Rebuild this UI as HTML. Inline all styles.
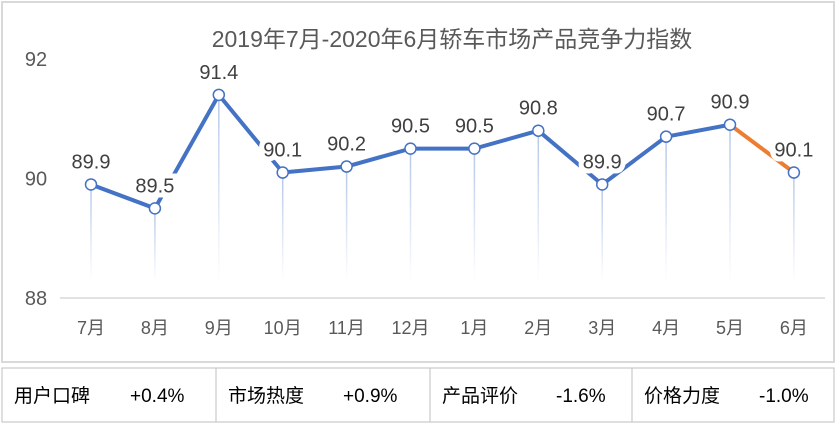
<!DOCTYPE html>
<html><head><meta charset="utf-8"><style>
body{margin:0;width:837px;height:424px;background:#fff;overflow:hidden;font-family:"Liberation Sans","Noto Sans CJK SC",sans-serif}
svg text{font-family:"Liberation Sans","Noto Sans CJK SC",sans-serif}
</style></head><body>
<svg width="837" height="424">
<defs><linearGradient id="dg" x1="0" y1="0" x2="0" y2="1"><stop offset="0" stop-color="#b4c7e7"/><stop offset="1" stop-color="#b4c7e7" stop-opacity="0"/></linearGradient></defs>
<rect x="2" y="2" width="832" height="360" fill="#fff" stroke="#d9d9d9" stroke-width="2"/>
<text x="452" y="47" text-anchor="middle" font-size="23" fill="#595959">2019年7月-2020年6月轿车市场产品竞争力指数</text>
<g id="g"></g>
<rect x="2" y="368" width="832" height="54" fill="#fff" stroke="#bfbfbf"/>
<line x1="216" y1="368" x2="216" y2="422" stroke="#bfbfbf"/>
<line x1="430" y1="368" x2="430" y2="422" stroke="#bfbfbf"/>
<line x1="632" y1="368" x2="632" y2="422" stroke="#bfbfbf"/>
<g font-size="19" fill="#000">
<text x="14" y="402">用户口碑</text><text x="130" y="402">+0.4%</text>
<text x="228" y="402">市场热度</text><text x="343" y="402">+0.9%</text>
<text x="442" y="402">产品评价</text><text x="556" y="402">-1.6%</text>
<text x="644" y="402">价格力度</text><text x="759" y="402">-1.0%</text>
</g>
</svg>
<script>
const categories=["7月","8月","9月","10月","11月","12月","1月","2月","3月","4月","5月","6月"];
const values=[89.9,89.5,91.4,90.1,90.2,90.5,90.5,90.8,89.9,90.7,90.9,90.1];
const yTicks=[88,90,92];
const NS="http://www.w3.org/2000/svg";
const g=document.getElementById('g');
const x=i=>91+i*63.9;
const y=v=>298-(v-88)*59.75;
function mk(t,a,p){const e=document.createElementNS(NS,t);for(const k in a)e.setAttribute(k,a[k]);(p||g).appendChild(e);return e;}
yTicks.forEach(t=>{const e=mk('text',{x:36,y:y(t)+7,'text-anchor':'middle','font-size':20,fill:'#595959'});e.textContent=t;

});
const ax=mk('line',{x1:60,x2:825,y1:y(88),y2:y(88),stroke:'#d9d9d9','stroke-width':1.5});


categories.forEach((c,i)=>{const e=mk('text',{x:x(i),y:334,'text-anchor':'middle','font-size':18,fill:'#595959'});e.textContent=c;


const d=mk('rect',{x:x(i)-0.75,y:y(values[i]),width:1.5,height:Math.max(0,282-y(values[i])),fill:'url(#dg)'});

});
for(let i=0;i<values.length-1;i++){const l=mk('line',{x1:x(i),y1:y(values[i]),x2:x(i+1),y2:y(values[i+1]),stroke:i==values.length-2?'#ED7D31':'#4472C4','stroke-width':4,'stroke-linecap':'round'});

}
values.forEach((v,i)=>{const lb=mk('text',{x:x(i),y:y(v)-16,'text-anchor':'middle','font-size':20,fill:'#404040',stroke:'#fff','stroke-width':10,'paint-order':'stroke'});lb.textContent=v.toFixed(1);

});
values.forEach((v,i)=>{const c=mk('circle',{cx:x(i),cy:y(v),r:5.5,fill:'#fff',stroke:'#4472C4','stroke-width':1.5});

});
</script>
</body></html>
